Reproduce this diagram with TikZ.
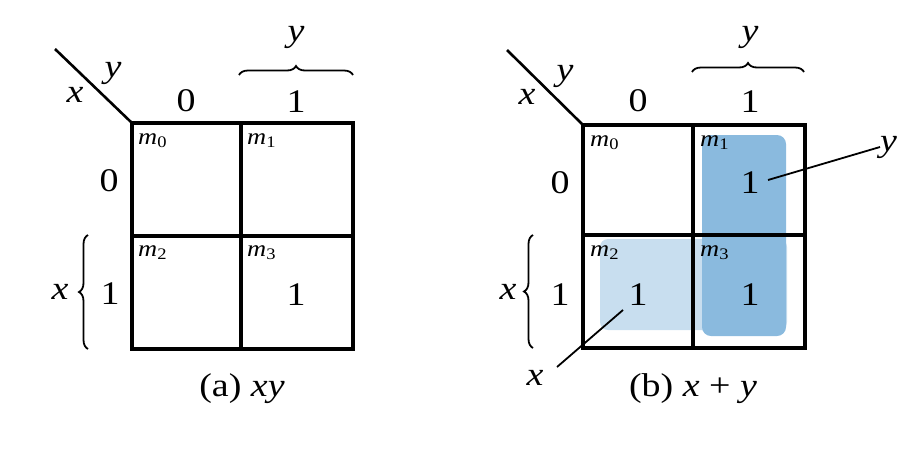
\documentclass[tikz,border=0pt]{standalone}
\usepackage{fontspec}
\setmainfont{Liberation Serif}[FakeStretch=1.15]
\usetikzlibrary{decorations.pathreplacing}
\definecolor{shadeA}{RGB}{138,186,222}
\definecolor{shadeB}{RGB}{200,222,239}
\begin{document}
\begin{tikzpicture}[x=1pt,y=1pt,
  grid/.style={line width=3.2pt, line cap=rect},
  lbl/.style={font=\fontsize{33}{35}\selectfont, inner sep=0pt},
  vlbl/.style={font=\fontsize{33}{35}\selectfont\itshape, inner sep=0pt},
  mlbl/.style={font=\fontsize{23}{25}\selectfont, inner sep=0pt, anchor=north west},
  brc/.style={decorate, decoration={brace, amplitude=9pt}, line width=1.8pt},
  lead/.style={line width=1.8pt}]
\useasboundingbox (0,0) rectangle (900,-456);
% ---------------- (a) ----------------
\coordinate (aTL) at (132,-123);
\coordinate (aDiag) at (55,-49);
\draw[grid] (132,-123) rectangle (353,-349);
\draw[grid] (241,-123) -- (241,-349);
\draw[grid] (132,-236) -- (353,-236);
\draw[line width=2.6pt] (aDiag) -- (aTL);
\node[vlbl] (ax) at (75,-95) {x};
\node[vlbl] (ay) at (113,-73) {y};
\node[lbl] (ac0) at (186,-101) {0};
\node[lbl] (ac1) at (296,-102) {1};
\node[lbl] (ar0) at (109,-181) {0};
\node[lbl] (ar1) at (110,-294) {1};
\draw[brc] (239,-75) -- (353,-75);
\node[vlbl] (ayb) at (296,-37) {y};
\draw[brc] (88,-349) -- (88,-235);
\node[vlbl] (axb) at (60,-292) {x};
\node[mlbl] (am0) at (138,-133) {\textit{m}\textsubscript{0}};
\node[mlbl] (am1) at (247,-133) {\textit{m}\textsubscript{1}};
\node[mlbl] (am2) at (138,-245) {\textit{m}\textsubscript{2}};
\node[mlbl] (am3) at (247,-245) {\textit{m}\textsubscript{3}};
\node[lbl] (a11) at (296,-295) {1};
\node[lbl] (acap) at (242,-389) {(a) \textit{xy}};
% ---------------- (b) ----------------
\fill[shadeB, rounded corners=8pt] (600,-239) rectangle (787,-330);
\fill[shadeA, rounded corners=9pt] (702,-135) rectangle (786,-336);
\coordinate (bTL) at (583,-125);
\coordinate (bDiag) at (507,-50);
\draw[grid] (583,-125) rectangle (805,-348);
\draw[grid] (693,-125) -- (693,-348);
\draw[grid] (583,-235) -- (805,-235);
\draw[line width=2.6pt] (bDiag) -- (bTL);
\node[vlbl] (bx) at (527,-97) {x};
\node[vlbl] (by) at (565,-76) {y};
\node[lbl] (bc0) at (638,-101) {0};
\node[lbl] (bc1) at (750,-102) {1};
\node[lbl] (br0) at (560,-183) {0};
\node[lbl] (br1) at (560,-295) {1};
\draw[brc] (692,-72) -- (804,-72);
\node[vlbl] (byb) at (750,-37) {y};
\draw[brc] (533,-348) -- (533,-235);
\node[vlbl] (bxb) at (508,-292) {x};
\node[mlbl] (bm0) at (590,-135) {\textit{m}\textsubscript{0}};
\node[mlbl] (bm1) at (700,-135) {\textit{m}\textsubscript{1}};
\node[mlbl] (bm2) at (590,-245) {\textit{m}\textsubscript{2}};
\node[mlbl] (bm3) at (700,-245) {\textit{m}\textsubscript{3}};
\node[lbl] (b1a) at (750,-183) {1};
\node[lbl] (b1b) at (638,-295) {1};
\node[lbl] (b1c) at (750,-295) {1};
\node[vlbl, anchor=west] (byr) at (880,-147) {y};
\node[vlbl] (bxl) at (535,-378) {x};
\coordinate (ly0) at (768,-180);
\coordinate (lx0) at (623,-310);
\coordinate (lx1) at (557,-367);
\draw[lead] (ly0) -- (byr.west);
\draw[lead] (lx0) -- (lx1);
\node[lbl] (bcap) at (693,-389) {(b) \textit{x} + \textit{y}};
\end{tikzpicture}
\end{document}
